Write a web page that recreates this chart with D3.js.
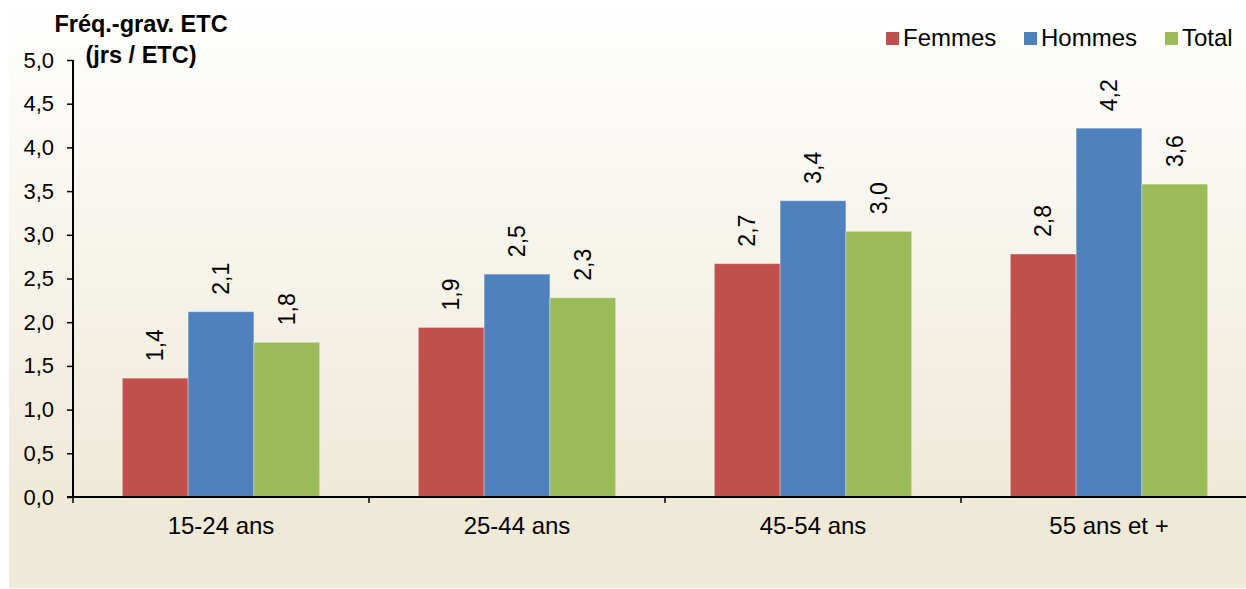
<!DOCTYPE html>
<html><head><meta charset="utf-8">
<script src="https://cdn.jsdelivr.net/npm/d3@7"></script>
<style>body{margin:0;padding:0;background:#fff}svg{display:block}</style>
</head><body>
<svg id="chart" width="1246" height="589"></svg>
<script>
const categories = ["15-24 ans", "25-44 ans", "45-54 ans", "55 ans et +"];
const seriesNames = ["Femmes", "Hommes", "Total"];
const femmes = [1.36, 1.94, 2.67, 2.78];
const hommes = [2.12, 2.55, 3.39, 4.22];
const total  = [1.77, 2.28, 3.04, 3.58];
const yTicks = [0, 0.5, 1, 1.5, 2, 2.5, 3, 3.5, 4, 4.5, 5];
const colors = ["#c0504d", "#4f81bd", "#9bbb59"];

(function () {
const seriesValues = [femmes, hommes, total];
const fmt = v => d3.format(".1f")(v).replace(".", ",");

const svg = d3.select("#chart");
const defs = svg.append("defs");
const grad = defs.append("linearGradient").attr("id", "bg")
  .attr("x1", 0).attr("y1", 0).attr("x2", 0).attr("y2", 1);
grad.append("stop").attr("offset", "0%").attr("stop-color", "#ffffff");
grad.append("stop").attr("offset", "85%").attr("stop-color", "#efe9d8");
grad.append("stop").attr("offset", "100%").attr("stop-color", "#efe9d8");

svg.append("rect").attr("x", 9).attr("y", 0).attr("width", 1237).attr("height", 588)
  .attr("fill", "url(#bg)");

const pLeft = 73, pBottom = 497, pTop = 60, pRight = 1257;
const y = d3.scaleLinear().domain([0, 5]).range([pBottom, pTop]);
const x0 = d3.scaleBand().domain(categories).range([pLeft, pRight]).paddingInner(0).paddingOuter(0);
const x1 = d3.scaleBand().domain(seriesNames).range([0, x0.bandwidth()]).paddingOuter(0.75).paddingInner(0);

const font = "Arial, 'Liberation Sans', sans-serif";

const g = svg.append("g");
categories.forEach((c, ci) => {
  seriesNames.forEach((s, si) => {
    const v = seriesValues[si][ci];
    const bx = x0(c) + x1(s);
    g.append("rect")
      .attr("x", bx).attr("y", y(v))
      .attr("width", x1.bandwidth()).attr("height", y(0) - y(v))
      .attr("fill", colors[si])
      .attr("stroke", "rgba(255,255,255,0.35)").attr("stroke-width", 1);
    const cx = bx + x1.bandwidth() / 2;
    const ly = y(v) - 17;
    g.append("text")
      .attr("transform", `translate(${cx + 8},${ly}) rotate(-90)`)
      .attr("text-anchor", "start")
      .attr("font-family", font).attr("font-size", 23).attr("fill", "#000")
      .text(fmt(v));
  });
});

const yAxis = d3.axisLeft(y).tickValues(yTicks).tickSize(6).tickPadding(13).tickFormat(fmt);
const ya = svg.append("g").attr("transform", `translate(${pLeft},0)`).call(yAxis);
ya.select(".domain").attr("stroke", "#000").attr("stroke-width", 2).attr("d", `M0,${pTop}V${pBottom}`);
ya.selectAll(".tick line").attr("stroke", "#000").attr("stroke-width", 1.5);
ya.selectAll(".tick text").attr("font-family", font).attr("font-size", 22).attr("fill", "#000");

const xa = svg.append("g").attr("transform", `translate(0,${pBottom})`);
xa.append("line").attr("x1", pLeft - 6).attr("x2", 1246).attr("y1", 0).attr("y2", 0)
  .attr("stroke", "#000").attr("stroke-width", 2);
categories.forEach((c, i) => {
  const bx = x0(c);
  xa.append("line").attr("x1", bx).attr("x2", bx).attr("y1", 0).attr("y2", 6)
    .attr("stroke", "#000").attr("stroke-width", 1.5);
  xa.append("text").attr("x", bx + x0.bandwidth() / 2).attr("y", 37)
    .attr("text-anchor", "middle").attr("font-family", font).attr("font-size", 24)
    .attr("fill", "#000").text(c);
});

svg.append("text").attr("x", 141).attr("y", 32).attr("text-anchor", "middle")
  .attr("font-family", font).attr("font-size", 23.5).attr("font-weight", "bold").text("Fréq.-grav. ETC");
svg.append("text").attr("x", 141).attr("y", 63).attr("text-anchor", "middle")
  .attr("font-family", font).attr("font-size", 23.5).attr("font-weight", "bold").text("(jrs / ETC)");

const legendX = [886, 1024, 1165];
seriesNames.forEach((s, i) => {
  svg.append("rect").attr("x", legendX[i]).attr("y", 32).attr("width", 13).attr("height", 13)
    .attr("fill", colors[i]);
  svg.append("text").attr("x", legendX[i] + 17).attr("y", 46)
    .attr("font-family", font).attr("font-size", 24).attr("fill", "#000").text(s);
});
})();
</script>
</body></html>
